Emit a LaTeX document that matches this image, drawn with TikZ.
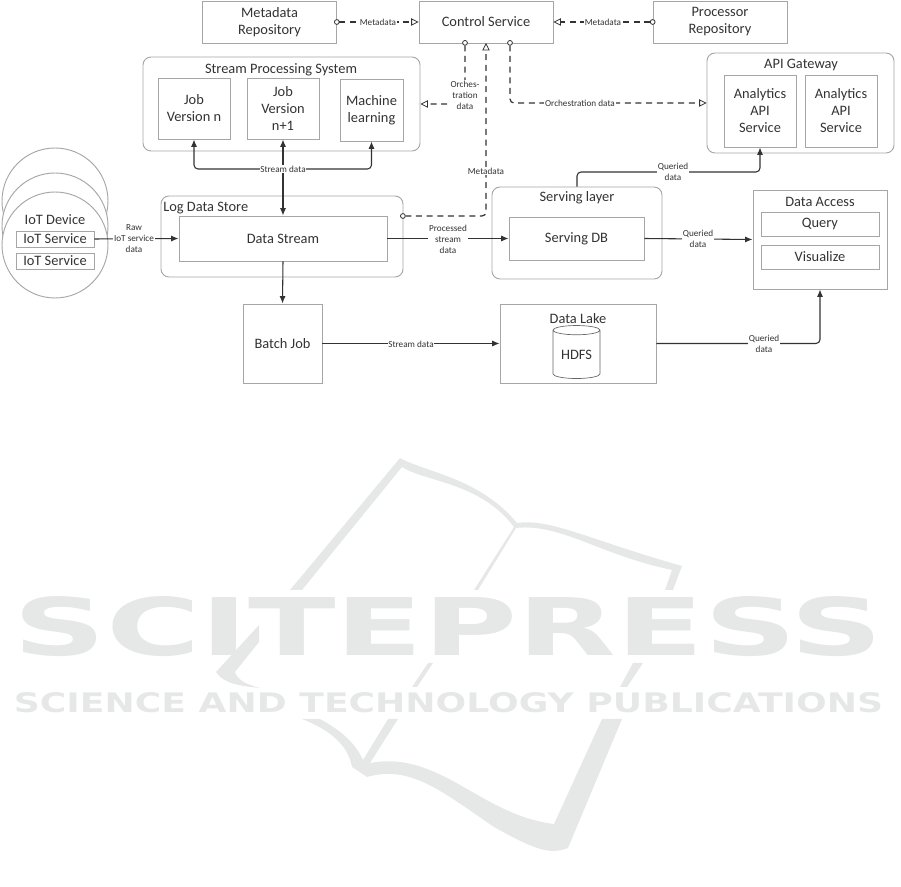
\documentclass[tikz,border=0pt]{standalone}
\usepackage{fontspec}
\setmainfont{Carlito}
\newfontfamily\markfont{DejaVu Sans}
\usetikzlibrary{arrows.meta, shapes.geometric}
\newlength\px
\setlength\px{0.75pt}
\definecolor{boxline}{HTML}{A6A6A6}
\definecolor{ink}{HTML}{333333}
\definecolor{wmark}{HTML}{E6E8E7}
\tikzset{
    box/.style={draw=boxline, line width=0.7pt, fill=white, text=ink, align=center, inner sep=0pt,
        font=\fontsize{10.8}{12.75}\selectfont},
    group/.style={box, rounded corners=6pt},
    title/.style={text=ink, inner sep=0pt, font=\fontsize{10.8}{12.75}\selectfont},
    lbl/.style={fill=white, text=ink, align=center, inner sep=0.6pt, font=\fontsize{6.9}{8.25}\selectfont},
    flow/.style={draw=ink, line width=0.8pt, rounded corners=3pt, -{Latex[length=5.5pt,width=4.5pt]}},
    ctrl/.style={draw=ink, line width=0.9pt, rounded corners=3pt, dash pattern=on 4.5pt off 3.5pt, shorten <=-2.2pt,
        {Circle[open,fill=white,length=4.2pt,width=4.2pt,line width=0.6pt]}-{Triangle[open,fill=white,length=5.5pt,width=5.5pt,line width=0.6pt]}},
}
\begin{document}
\begin{tikzpicture}[x=0.75pt, y=-0.75pt]
    \useasboundingbox (0,0) rectangle (901,887);
    % watermark
    \fill[wmark] (400,458) .. controls (425,472) and (480,478) .. (517,523)
        .. controls (550,518) and (590,540) .. (682,566) -- (673,590) -- (665,590) -- (672,570)
        .. controls (600,555) and (560,523) .. (516,528) -- (478,590) -- (474,590) -- (514,527)
        .. controls (480,482) and (425,482) .. (402,467) -- (302,590) -- (290,590) -- cycle;
    \fill[wmark] (259,625) -- (216,672) .. controls (222,680) and (228,685) .. (260,688)
        .. controls (245,684) and (238,680) .. (235,672) -- (259,642) -- cycle;
    \fill[wmark] (443,642) -- (438,652) -- (441,642) -- cycle;
    \fill[wmark] (433,663) -- (417,687) -- (412,687) -- (428,663) -- cycle;
    \fill[wmark] (633,663) -- (643,663) -- (627,687) -- (620,687) -- cycle;
    \fill[wmark] (302,719) -- (320,719) .. controls (340,730) and (355,742) .. (363,760)
        -- (388,719) -- (398,719) -- (370,763) .. controls (440,750) and (480,815) .. (554,824)
        -- (602,719) -- (622,719) -- (568,848) .. controls (550,855) and (535,850) .. (494,827)
        .. controls (440,790) and (410,765) .. (367,777) -- (352,767)
        .. controls (348,745) and (330,730) .. (302,719) -- cycle;
    \node[text=wmark, inner sep=0pt] (markA) at (448.5,626.5)
        {\resizebox{651.75pt}{44.25pt}{\markfont\bfseries SCITEPRESS}};
    \node[text=wmark, inner sep=0pt] (markB) at (448.5,703)
        {\resizebox{651.75pt}{15pt}{\markfont\bfseries SCIENCE AND TECHNOLOGY PUBLICATIONS}};
    % top row
    \node[box, minimum width=134\px, minimum height=42\px] (mrepo) at (269.5,22) {Metadata\\Repository};
    \node[box, minimum width=134\px, minimum height=42\px] (cserv) at (486,22) {Control Service};
    \node[box, minimum width=134\px, minimum height=42\px] (prepo) at (720,22) {Processor\\Repository};
    % stream processing
    \node[group, minimum width=277\px, minimum height=94\px] (spsys) at (281.5,104) {};
    \node[title] (spsysT) at (281,69.5) {Stream Processing System};
    \node[box, minimum width=72\px, minimum height=61\px] (jobn) at (194,108.5) {Job\\Version n};
    \node[box, minimum width=72\px, minimum height=61\px] (jobm) at (283,108.5) {Job\\Version\\n+1};
    \node[box, minimum width=63\px, minimum height=62\px] (mlearn) at (371.5,110) {Machine\\learning};
    % API gateway
    \node[group, minimum width=187\px, minimum height=100\px] (apigw) at (800.5,103) {};
    \node[title] (apigwT) at (801,64.5) {API Gateway};
    \node[box, minimum width=72\px, minimum height=72\px] (apia) at (760,111) {Analytics\\API\\Service};
    \node[box, minimum width=72\px, minimum height=72\px] (apib) at (841,111) {Analytics\\API\\Service};
    % IoT devices
    \node[circle, draw=boxline, line width=0.7pt, fill=white, minimum size=106\px, inner sep=0pt] (devA) at (55,201) {};
    \node[circle, draw=boxline, line width=0.7pt, fill=white, minimum size=106\px, inner sep=0pt] (devB) at (55,226) {};
    \node[circle, draw=boxline, line width=0.7pt, fill=white, minimum size=106\px, inner sep=0pt] (devC) at (55,245) {};
    \node[title] (devT) at (55,220) {IoT Device};
    \node[box, minimum width=78\px, minimum height=16\px] (iota) at (55,239) {IoT Service};
    \node[box, minimum width=78\px, minimum height=16\px] (iotb) at (55,261) {IoT Service};
    % log data store
    \node[group, minimum width=242\px, minimum height=81\px] (logds) at (282,236.5) {};
    \node[title, anchor=west] (logdsT) at (163,208) {Log Data Store};
    \node[box, minimum width=208\px, minimum height=45\px] (stream) at (283,238.5) {Data Stream};
    \node[box, minimum width=79\px, minimum height=79\px] (batch) at (282.5,343.5) {Batch Job};
    % serving layer
    \node[group, minimum width=170\px, minimum height=92\px] (serve) at (577,233) {};
    \node[title] (serveT) at (577,197.5) {Serving layer};
    \node[box, minimum width=135\px, minimum height=43\px] (servedb) at (576.5,238.5) {Serving DB};
    % data access
    \node[box, minimum width=134\px, minimum height=99\px] (access) at (820,239.5) {};
    \node[title] (accessT) at (820,202) {Data Access};
    \node[box, minimum width=118\px, minimum height=24\px] (query) at (820,224) {Query};
    \node[box, minimum width=118\px, minimum height=24\px] (visual) at (820,257) {Visualize};
    % data lake
    \node[box, minimum width=156\px, minimum height=79\px] (lake) at (578,343.5) {};
    \node[title] (lakeT) at (578,318.5) {Data Lake};
    \node[cylinder, shape border rotate=90, aspect=0.3, draw=ink!75, line width=0.5pt, text=ink, inner sep=0pt,
        minimum width=47\px, minimum height=53\px, font=\fontsize{10.8}{12.75}\selectfont] (hdfs) at (576.5,354.5) {HDFS};
    % free ends
    \coordinate (mdOut) at (403,216);
    \coordinate (mdIn) at (486,43);
    \coordinate (orchA) at (465,43);
    \coordinate (orchB) at (465,104);
    \coordinate (orchC) at (510,43);
    \coordinate (orchD) at (580,103);
    \coordinate (streamTap) at (283,169);
    \coordinate (queryTap) at (673,172);
    % dashed connectors
    \draw[ctrl] (mrepo.east) -- (cserv.west);
    \draw[ctrl] (prepo.west) -- (cserv.east);
    \draw[ctrl] (orchA) |- (spsys.east |- orchB);
    \draw[ctrl] (orchC) |- (apigw.west |- orchD);
    \draw[ctrl] (mdOut) -| (mdIn);
    % solid connectors
    \draw[flow] (streamTap) -- (stream.north);
    \draw[flow] (streamTap) -- (jobm.south);
    \draw[flow, {Latex[length=5.5pt,width=4.5pt]}-{Latex[length=5.5pt,width=4.5pt]}] (jobn.south) |- (streamTap) -| (mlearn.south);
    \draw[flow] (iota.east) -- (stream.west);
    \draw[flow] (stream.east) -- (servedb.west);
    \draw[flow] (servedb.east) -- (access.west);
    \draw[flow] (stream.south) -- (batch.north);
    \draw[flow] (batch.east) -- (lake.west);
    \draw[flow] (lake.east) -| (access.south);
    \draw[flow] (serve.north) |- (queryTap) -| (apia.south);
    % connector labels
    \node[lbl] (lblA) at (378,22) {Metadata};
    \node[lbl] (lblB) at (603,22) {Metadata};
    \node[lbl] (lblC) at (465,95) {Orches-\\tration\\data};
    \node[lbl] (lblD) at (580,103) {Orchestration data};
    \node[lbl] (lblE) at (486,171) {Metadata};
    \node[lbl] (lblF) at (283,169) {Stream data};
    \node[lbl] (lblG) at (134,239) {Raw\\IoT service\\data};
    \node[lbl] (lblH) at (448,239) {Processed\\stream\\data};
    \node[lbl] (lblI) at (698,238.5) {Queried\\data};
    \node[lbl] (lblJ) at (673,172) {Queried\\data};
    \node[lbl] (lblK) at (411,344) {Stream data};
    \node[lbl] (lblL) at (764,344) {Queried\\data};
\end{tikzpicture}
\end{document}
